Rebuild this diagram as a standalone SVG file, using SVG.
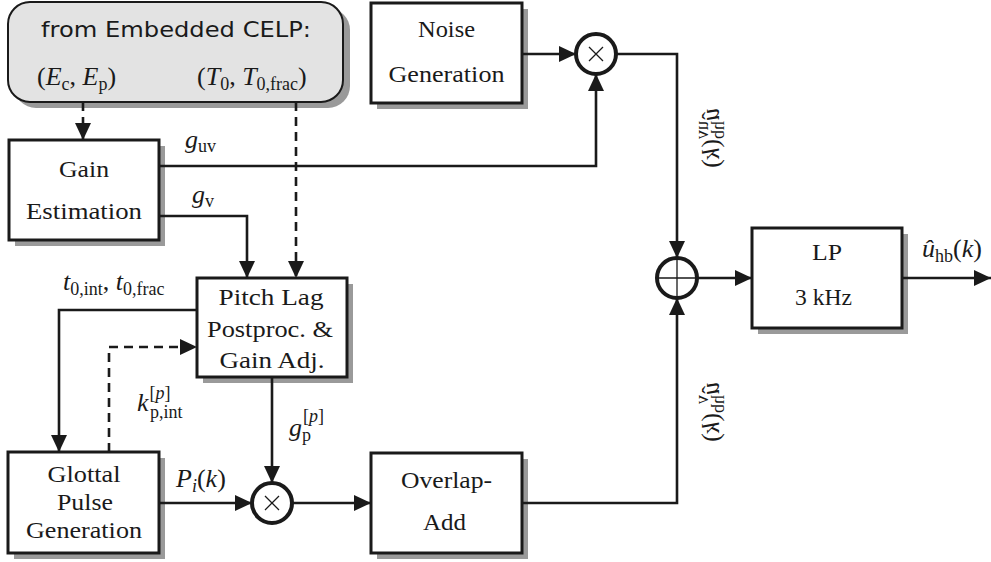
<svg xmlns="http://www.w3.org/2000/svg" width="991" height="562" viewBox="0 0 991 562">
<style>
.box{fill:#fff;stroke:#1a1a1a;stroke-width:3}
.sh{fill:#9a9a9a}
.lbl{font-family:"Liberation Serif",serif;font-size:23px;fill:#1a1a1a;text-anchor:middle}
.m{font-family:"Liberation Serif",serif;font-size:26px;fill:#1a1a1a}
.i{font-style:italic}
.s{font-size:18px}
.w{fill:none;stroke:#1a1a1a;stroke-width:2.6}
.d{fill:none;stroke:#1a1a1a;stroke-width:2.6;stroke-dasharray:9 6}
.op{fill:#fff;stroke:#1a1a1a;stroke-width:4}
.sym{stroke:#1a1a1a;stroke-width:1.3}
</style>
<defs>
<marker id="ar" markerUnits="userSpaceOnUse" markerWidth="18" markerHeight="16" refX="17" refY="8" orient="auto">
<path d="M0,0 L17,8 L0,16 z" fill="#1a1a1a"/>
</marker>
</defs>

<g id="src">
<rect x="14" y="8" width="336" height="100" rx="22" class="sh"/>
<rect x="8" y="2" width="335" height="100" rx="22" fill="#e3e3e3" stroke="#1a1a1a" stroke-width="2"/>
<text x="176" y="37" font-family="DejaVu Sans,sans-serif" font-size="21" fill="#1a1a1a" text-anchor="middle" textLength="270" lengthAdjust="spacingAndGlyphs">from Embedded CELP:</text>
<text x="37" y="85" class="m">(<tspan class="i">E</tspan><tspan class="s" dy="5">c</tspan><tspan dy="-5">, </tspan><tspan class="i">E</tspan><tspan class="s" dy="5">p</tspan><tspan dy="-5">)</tspan></text>
<text x="197" y="85" class="m">(<tspan class="i">T</tspan><tspan class="s" dy="5">0</tspan><tspan dy="-5">, </tspan><tspan class="i">T</tspan><tspan class="s" dy="5">0,frac</tspan><tspan dy="-5">)</tspan></text>
</g>

<g id="gain">
<rect x="15" y="146" width="150" height="100" class="sh"/>
<rect x="9" y="140" width="150" height="100" class="box"/>
<text x="84" y="177" class="lbl" textLength="50" lengthAdjust="spacingAndGlyphs">Gain</text>
<text x="84" y="219" class="lbl" textLength="116" lengthAdjust="spacingAndGlyphs">Estimation</text>
</g>

<g id="noise">
<rect x="377" y="9" width="151" height="100" class="sh"/>
<rect x="371" y="3" width="151" height="100" class="box"/>
<text x="446.5" y="37" class="lbl" textLength="57" lengthAdjust="spacingAndGlyphs">Noise</text>
<text x="446.5" y="82" class="lbl" textLength="116" lengthAdjust="spacingAndGlyphs">Generation</text>
</g>

<g id="pitch">
<rect x="203" y="284" width="150" height="99" class="sh"/>
<rect x="197" y="278" width="150" height="99" class="box"/>
<text x="271" y="305" class="lbl" textLength="105" lengthAdjust="spacingAndGlyphs">Pitch Lag</text>
<text x="270" y="337" class="lbl" textLength="126" lengthAdjust="spacingAndGlyphs">Postproc. &amp;</text>
<text x="272" y="368" class="lbl" textLength="105" lengthAdjust="spacingAndGlyphs">Gain Adj.</text>
</g>

<g id="glottal">
<rect x="14" y="458" width="151" height="101" class="sh"/>
<rect x="8" y="452" width="151" height="101" class="box"/>
<text x="84" y="482" class="lbl" textLength="73" lengthAdjust="spacingAndGlyphs">Glottal</text>
<text x="85" y="510" class="lbl" textLength="56" lengthAdjust="spacingAndGlyphs">Pulse</text>
<text x="84" y="538" class="lbl" textLength="116" lengthAdjust="spacingAndGlyphs">Generation</text>
</g>

<g id="ola">
<rect x="377" y="459" width="151" height="100" class="sh"/>
<rect x="371" y="453" width="151" height="100" class="box"/>
<text x="446.5" y="488" class="lbl" textLength="91" lengthAdjust="spacingAndGlyphs">Overlap-</text>
<text x="444.5" y="530" class="lbl" textLength="43" lengthAdjust="spacingAndGlyphs">Add</text>
</g>

<g id="lp">
<rect x="758" y="234" width="150" height="100" class="sh"/>
<rect x="752" y="228" width="150" height="100" class="box"/>
<text x="827" y="260" class="lbl" textLength="30" lengthAdjust="spacingAndGlyphs">LP</text>
<text x="823.5" y="305" class="lbl" textLength="57" lengthAdjust="spacingAndGlyphs">3 kHz</text>
</g>

<g id="mul1">
<circle cx="596" cy="54" r="20" class="op"/>
<path d="M589,47 L603,61 M603,47 L589,61" class="sym"/>
</g>

<g id="mul2">
<circle cx="272" cy="503" r="20" class="op"/>
<path d="M265,496 L279,510 M279,496 L265,510" class="sym"/>
</g>

<g id="sum">
<circle cx="677" cy="278" r="20" class="op"/>
<path d="M657,278 H697 M677,258 V298" class="sym"/>
</g>

<g id="connectors">
<path d="M83,102 V140" class="d" marker-end="url(#ar)"/>
<path d="M296,102 V278" class="d" marker-end="url(#ar)"/>
<path d="M159,166 H596 V74" class="w" marker-end="url(#ar)"/>
<path d="M159,216 H247 V278" class="w" marker-end="url(#ar)"/>
<path d="M522,54 H576" class="w" marker-end="url(#ar)"/>
<path d="M616,54 H677 V258" class="w" marker-end="url(#ar)"/>
<path d="M197,310 H59 V452" class="w" marker-end="url(#ar)"/>
<path d="M109,452 V347 H197" class="d" marker-end="url(#ar)"/>
<path d="M272,377 V483" class="w" marker-end="url(#ar)"/>
<path d="M159,503 H252" class="w" marker-end="url(#ar)"/>
<path d="M292,503 H371" class="w" marker-end="url(#ar)"/>
<path d="M522,503 H677 V298" class="w" marker-end="url(#ar)"/>
<path d="M697,278 H752" class="w" marker-end="url(#ar)"/>
<path d="M902,278 H991" class="w" marker-end="url(#ar)"/>
</g>

<g id="labels">
<text x="185" y="148" class="m"><tspan class="i">g</tspan><tspan class="s" dy="4">uv</tspan></text>
<text x="192" y="203" class="m"><tspan class="i">g</tspan><tspan class="s" dy="4">v</tspan></text>
<text x="63" y="290" class="m"><tspan class="i">t</tspan><tspan class="s" dy="5">0,int</tspan><tspan dy="-5">, </tspan><tspan class="i">t</tspan><tspan class="s" dy="5">0,frac</tspan></text>
<text x="137" y="411" class="m"><tspan class="i">k</tspan><tspan class="s" dx="1" dy="-12">[<tspan class="i">p</tspan>]</tspan></text>
<text x="150" y="418" class="m s">p,int</text>
<text x="289" y="436" class="m"><tspan class="i">g</tspan><tspan class="s" dx="1" dy="-14">[<tspan class="i">p</tspan>]</tspan></text>
<text x="302" y="441" class="m s">p</text>
<text x="176" y="487" class="m"><tspan class="i">P</tspan><tspan class="s i" dy="5">i</tspan><tspan dy="-5">(</tspan><tspan class="i">k</tspan>)</text>
<text x="922" y="257" class="m"><tspan class="i">û</tspan><tspan class="s" dy="5">hb</tspan><tspan dy="-5">(</tspan><tspan class="i">k</tspan>)</text>
<g transform="matrix(0,1,1,0,719,108)">
<text x="0" y="0" class="m"><tspan class="i">û</tspan><tspan class="s" dy="5">hb</tspan><tspan dy="-5">(</tspan><tspan class="i">k</tspan>)</text>
<text x="13" y="-11" class="m s">uv</text>
</g>
<g transform="matrix(0,1,1,0,719,382)">
<text x="0" y="0" class="m"><tspan class="i">û</tspan><tspan class="s" dy="5">hb</tspan><tspan dy="-5">(</tspan><tspan class="i">k</tspan>)</text>
<text x="13" y="-11" class="m s">v</text>
</g>
</g>
</svg>
